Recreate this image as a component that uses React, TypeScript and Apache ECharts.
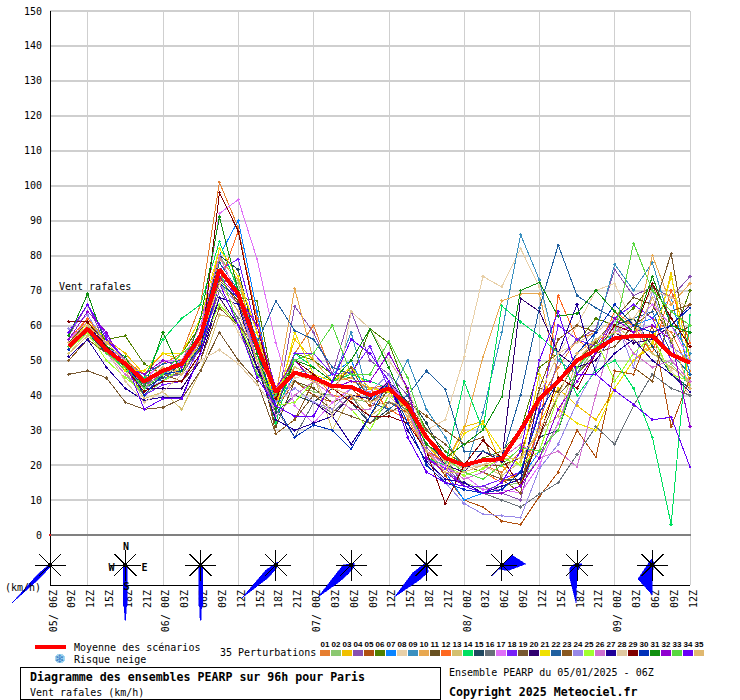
import React, { useEffect, useRef } from "react";
import * as echarts from "echarts";

const xLabels = [
  "05/ 06Z","09Z","12Z","15Z","18Z","21Z",
  "06/ 00Z","03Z","06Z","09Z","12Z","15Z","18Z","21Z",
  "07/ 00Z","03Z","06Z","09Z","12Z","15Z","18Z","21Z",
  "08/ 00Z","03Z","06Z","09Z","12Z","15Z","18Z","21Z",
  "09/ 00Z","03Z","06Z","09Z","12Z",
];

const meanValues = [54,59,53,49,44,47,49,57,76,69,54,41,46.5,45,42.6,42.4,40,42,37,28,22,20,21.4,21.7,30,39,44,50,53,56.3,57,57,51.7,49.3];

const m01 = [55,62,55,50,45,49,52,66,101,88,60,40,52,60,46,44,42,43,38,26,22,19,20,18,24,38,48,56,58,62,60,62,58,47];
const m02 = [54,60,52,46,40,44,47,56,80,72,55,40,44,41,40,39,38,41,35,24,18,15,13,14,15,22,32,46,54,58,62,52,49,43];
const m03 = [56,62,56,52,46,52,50,58,82,74,52,38,56,50,44,47,40,41,38,26,20,31,32.5,20,14,32,42,37,33,42,50,54,75,42];
const m04 = [57,66,54,50,43,45,46,62,78,70,50,35,65.5,58,46,64,50,46,40,25,20,14,14,12,10,32,50,56,59,76,68.5,71,68,74];
const m05 = [53,59,52,48,43,47,46,55,74,66,50,36,44,40,38,42,37,38,35,24,17,10,8,4,3,11,18,30,22.3,47,46,60,31,45];
const m06 = [52,58,56,57,49,46,52,60,72,68,67,39,52,50,46,45,59,55,41,30,24,20,22,24,30,48,52,55,62,60,65,72,55,70];
const m07 = [53,60,52,49,46,44,50,60,80,90,64,36,46,44,46,50,38,44,37,22,18,10,12,14,16,24,30,46,52,58,60,62,68,46];
const m08 = [52,58,52,47,43,46,48,56,68,58,48,42,46,44,42,47,40,36,35,30,33,51,74,71,82,71,52,60,70,72,60,55,47,40];
const m09 = [54,60,54,50,45,46,49,58,74,70,56,41,46,48,44,58,38,40,50,36,28,18,35,58,86,73,50,46,58,77.5,70,78,60,52];
const m10 = [55,60,54,51,44,47,47,56,79,73,58,40,70.5,50,44,45,42,42,35,24,20,30,51,67,69,69,45,48,56,60,56,80,66,72];
const m11 = [55,61,55,50,42,46,47,53,73,67,50,31,44,42,38,40,34,42,38,28,22,18,20,20,22,42,41,50,55,62,68,66,56,60];
const m12 = [56,62,55,50,46,52,52,55,72,87,62,38,48,46,40,39,42,36,33,24,21,20,18,15,18,30,68.5,56,52,64,60,52,70,55];
const m13 = [52,57,52,47,39,41,36,47,63,62,47,42,48,46,30,40,34,38,37,26,21,19,20,17,21,30,34,50,56,60,56,52,48,44];
const m14 = [53,59,53,47,45,56,62,66,84,70,52,32,52,48,44,46,44,42,36,22,20,44,30,65.6,61,57,52,40,47,50,42,28,3,63];
const m15 = [53,58,52,48,42,45,49,58,80,76,54,35,40,38,42,38,32,36,40,32,22,14,14,16,16,28,30,46,52,60,62,54,46,42];
const m16 = [54,58,53,49,43,46,46,54,70,62,50,36,28,38,35,40,32,38,36,28,22,14,12,10,8,11.7,15,23,31,26,37,46,42,40];
const m17 = [56,61,54,50,44,50,50,58,92,96,79,55,37,32,38,42,40,44,37,24,19,17,13,13,12,20,32,48,54,58,60,66,60,50];
const m18 = [58,66,57,50,40,43,44,54,76,79,58,36,52,52,46,46.5,54,42,36,22,19,14,14,16,18,36,60,56,54,62,66,62,50,44];
const m19 = [46,47,45,38,36,36.5,39,47,58,50,44,29,33,40,36,34,32,35,38,30,26,20,18,16,15,28,40,46,52,54,60,64,80.5,50];
const m20 = [55,60,54,49,42,42,42,50,68,60,48,38,42,38,34,40,39,44,38,28,20,18,24,21,67.7,64,52,48,50,58,55,56,60,66];
const m21 = [54,61,56,47,47,52,52,62,82,74,58,36,58,46,44,48,42,41,36,22,18,29,32,24,20,46,36,32,30,42,50,55,74,50];
const m22 = [54,58,53,48,46,49,50,58,78,70,55,67,58.5,56,48,46,38,36,40,47,41.7,24,24,22,40,65,83,68.5,65,62,62,64,52,46];
const m23 = [50,56,52,48,40,46,44,50,65,60,54,29,33,44,42,48,38,42,38,34,30,26,28,16,12,42,56,60,58,62,48,44,64,66];
const m24 = [59,63,54,50,42,44,48,56,72,66,50,38,42,38,36,42,41,46,36,22,15,9,6,5.5,5,19,26,38,48,62,48,70,54,50];
const m25 = [53,58,50,45,41,44,48,54,66,60,50,37,38,44,40,36,30,40,37,24,20,17,19,22,20,24,40,52,56,44,52,57,46,44];
const m26 = [55,60,52,46,42,47,50,60,80,68,50,34,40,44,40,36,36,44,36,24,20,16,18,22,26,22,24,19.5,40,60,52,48,50,44];
const m27 = [51,56,48,42,38.5,39.5,39.5,52,68,66,48,33,30,32,34,26,34,44,30,21,16,15,12,14,16,40,52,66,46,52,56,50,46,41];
const m28 = [55,59,53,44,38,41,46,50,53,49,43,36,45,46,34,64,59,50,42,28,22,19,20,24,28,40,52,55,58,62,62,70,68,65];
const m29 = [61,61,54,48,41,44,44,52,98,87,60,39,50,46,42,38,34,34,32,24,9,20,27,22,14,28,45,42,52,60,58,72,62,54];
const m30 = [53,60,55,50,40,46,47,54,72,68,52,37,28,31.5,30,24.6,34,44,32,20,15,13,12,13,18,35,44,52,58,66,60,58,60,65];
const m31 = [57,69,54,51,42,58,46,62,91,70,52,36,50,48,44,50,59,48,36,26,22,26,30,39.5,70,72.3,62.6,63.4,70,64,58,74,60,58];
const m32 = [56,64,58,48,46,50,48,56,74,68,60,42,50,44,42,44,44,52,42,22,18,14,12,12,14,22,36,44,52,62,58,60,56,31];
const m33 = [54,60,52,48,42,46,52,56,76,60,46,40,50,52,60,46,46,55.5,45,28,22,18,16,20,25,24,30,48,54,58,83.5,70,64,60];
const m34 = [58,66,56,50,36,39,39,52,72,60,45,37,34,34,44,56,52,44,28,18,15,14,12,15,24,50,64,46,46,41.4,37.4,33,33.7,19.5];
const m35 = [55,60,55,50,44,48,46,56,72,64,50,42,46,44,42,40,38,40,34,24,18,18,20,22,22,30,40,52,56,58,56,68,56,42];

const memberValues = [m01,m02,m03,m04,m05,m06,m07,m08,m09,m10,m11,m12,m13,m14,m15,m16,m17,m18,m19,m20,m21,m22,m23,m24,m25,m26,m27,m28,m29,m30,m31,m32,m33,m34,m35];

const memberColors = ["#e67e30","#8bc870","#f0c000","#8850b0","#b05010","#508000","#0a84ff","#e8d0a8","#3a90c0","#e8a850","#685020","#ff6820","#d4c070","#00e060","#204860","#687078","#e070f8","#7820f8","#785830","#300070","#f0e000","#2060a0","#885820","#9888e8","#a0ff30","#d070d0","#200098","#e0c8a0","#800000","#0030b8","#109010","#9000d0","#58d840","#6800f8","#e0b870"];

const memberIds = memberColors.map((_, i) => String(i + 1).padStart(2, "0"));

// wind plumes: time index on the axis, outline as [east, north] km/h components
const roseIndex = [0, 4, 8, 12, 16, 20, 24, 28, 32];
const plumes = [
  [[1,2],[-12,-9],[-38,-38],[-10,-13],[0,-2]],
  [[-2,0],[2,0],[2,-41],[1,-42],[0.5,-55],[-0.5,-55],[-1,-42],[-2,-41]],
  [[-2,0],[2,0],[2,-41],[1,-42],[0.5,-55],[-0.5,-55],[-1,-42],[-2,-41]],
  [[2,3],[-10,-5],[-34,-33],[-8,-13],[1,-3]],
  [[3,2],[-8,0],[-16,-10],[-33,-32],[-12,-17],[-3,-9],[3,-2]],
  [[0,3],[2,-7],[-7,-15],[-32,-32],[-14,-8]],
  [[-10,-11],[10,10],[24,1],[6,-5.7],[-3,-4]],
  [[-7.5,-3],[-1,2],[5,1],[0,-7],[-1,-38],[-7.5,-12]],
  [[-1,6],[2,2],[0,-8],[0,-30],[-14.5,-14]],
];

const MONO = "'DejaVu Sans Mono', monospace";
const GRID_COLOR = "#cfcfcf";
const label = (x: number, y: number, text: string, bold = false, size = 10) => ({
  type: "text", x, y, z: 20,
  style: { text, fill: "#000", font: `${bold ? "bold " : ""}${size}px ${MONO}`, textVerticalAlign: "middle", textBaseline: "middle" },
});

export default function App() {
  const ref = useRef<HTMLDivElement>(null);
  useEffect(() => {
    document.body.style.margin = "0";
    const chart = echarts.init(ref.current!, undefined, { renderer: "svg" });
    const withGap = (v: number[]) => [null, ...v];
    const spokes = [[15.5,0],[-15.5,0],[0,15.5],[0,-15.5],[11,11],[-11,11],[11,-11],[-11,-11]];
    const renderRose = (params: any, api: any) => {
      const [cx, cy] = api.coord([api.value(0), api.value(1)]);
      const plume = plumes[params.dataIndex];
      const points = plume.map(([u, v]) => [cx + u, cy - v]);
      return {
        type: "group",
        children: [
          { type: "polygon", shape: { points }, style: { fill: "#0000ff", stroke: "#0000ff", lineWidth: 0.5 } },
          ...spokes.map(([dx, dy]) => ({
            type: "line",
            shape: { x1: cx, y1: cy, x2: cx + dx, y2: cy + dy },
            style: { stroke: "#000", lineWidth: 1 },
          })),
          { type: "circle", shape: { cx, cy, r: 2 }, style: { fill: "#000" } },
        ],
      };
    };
    const gridSplit = {
      show: true,
      interval: (i: number) => i % 4 === 2,
      lineStyle: { color: GRID_COLOR, width: 1 },
    };
    const swatches = memberColors.flatMap((c, i) => [
      { type: "rect", shape: { x: 320 + i * 11, y: 650, width: 10, height: 6 }, style: { fill: c }, z: 20 },
      {
        type: "text", x: 320.5 + i * 11, y: 644, z: 20,
        style: { text: memberIds[i], fill: "#000", font: "bold 8px 'Liberation Sans', sans-serif", textVerticalAlign: "middle", textBaseline: "middle" },
      },
    ]);
    chart.setOption({
      animation: false,
      backgroundColor: "#ffffff",
      grid: [
        { left: 50, right: 50, top: 11, height: 524 },
        { left: 50, right: 50, top: 535, height: 50 },
      ],
      xAxis: [
        {
          type: "category", gridIndex: 0, data: xLabels, boundaryGap: false,
          axisLabel: { show: false }, axisTick: { show: false },
          axisLine: { show: true, lineStyle: { color: "#808080", width: 2 } },
          splitLine: gridSplit,
        },
        {
          type: "category", gridIndex: 1, data: xLabels, boundaryGap: false,
          axisTick: { show: false },
          axisLine: { show: true, lineStyle: { color: "#000", width: 1 } },
          splitLine: gridSplit,
          axisLabel: {
            interval: 0, rotate: 90, margin: 5, color: "#000", fontFamily: MONO, fontSize: 10,
            verticalAlign: "top", lineHeight: 6, hideOverlap: false,
          },
        },
      ],
      yAxis: [
        {
          type: "value", gridIndex: 0, min: 0, max: 150, interval: 10,
          axisLine: { show: true, lineStyle: { color: "#000", width: 1 } },
          axisTick: { show: false },
          axisLabel: { color: "#000", fontFamily: MONO, fontSize: 10, margin: 8 },
          splitLine: { show: true, lineStyle: { color: GRID_COLOR, width: 2 } },
        },
        {
          type: "value", gridIndex: 1, min: 0, max: 50,
          axisLine: { show: true, lineStyle: { color: "#000", width: 1 } },
          axisTick: { show: false }, axisLabel: { show: false }, splitLine: { show: false },
        },
      ],
      series: [
        ...memberValues.map((v, i) => ({
          type: "line", name: memberIds[i], data: withGap(v), xAxisIndex: 0, yAxisIndex: 0,
          symbol: "diamond", symbolSize: 3.5, showSymbol: true, showAllSymbol: true,
          lineStyle: { color: memberColors[i], width: 1 },
          itemStyle: { color: memberColors[i] }, z: 3 + i * 0.01, silent: true,
        })),
        {
          type: "line", name: "Moyenne des scénarios", data: withGap(meanValues), xAxisIndex: 0, yAxisIndex: 0,
          symbol: "none", lineStyle: { color: "#ff0000", width: 4 }, z: 5, silent: true,
        },
        {
          type: "scatter", data: [[0, 0]], xAxisIndex: 0, yAxisIndex: 0,
          symbolSize: 3, itemStyle: { color: "#ff0000" }, z: 6, silent: true, clip: false,
        },
        {
          type: "custom", xAxisIndex: 1, yAxisIndex: 1, clip: false, z: 7, silent: true,
          data: roseIndex.map((i) => [i, 20]), renderItem: renderRose,
        },
      ],
      graphic: [
        label(59, 286, "Vent rafales"),
        label(5, 587, "(km/h)"),
        label(123, 546, "N", true), label(108.5, 567, "W", true), label(141.5, 567, "E", true), label(123.5, 586, "S", true),
        { type: "rect", shape: { x: 35, y: 645, width: 31, height: 4 }, style: { fill: "#ff0000" }, z: 20 },
        label(74, 647, "Moyenne des scénarios"),
        { type: "circle", shape: { cx: 60, cy: 658.5, r: 5 }, style: { fill: "#a8d8f0" }, z: 19 },
        { type: "text", x: 60, y: 658.5, z: 20, style: { text: "❄", fill: "#3a80c8", font: "12px 'DejaVu Sans'", textAlign: "center", textVerticalAlign: "middle", textBaseline: "middle" } },
        label(74, 659, "Risque neige"),
        label(220, 652, "35 Perturbations"),
        ...swatches,
        { type: "rect", shape: { x: 20.5, y: 667.5, width: 420, height: 32 }, style: { fill: "#fff", stroke: "#000", lineWidth: 1 }, z: 18 },
        label(30, 677, "Diagramme des ensembles PEARP sur 96h pour Paris", true, 11.6),
        label(30, 692, "Vent rafales (km/h)"),
        label(449, 672, "Ensemble PEARP du 05/01/2025 - 06Z"),
        label(449, 692, "Copyright 2025 Meteociel.fr", true, 11.6),
      ],
    });
    const svg = ref.current!.querySelector("svg");
    if (svg) svg.setAttribute("shape-rendering", "crispEdges");
    return () => chart.dispose();
  }, []);
  return <div ref={ref} style={{ position: "fixed", left: 0, top: 0, width: 740, height: 700 }} />;
}
